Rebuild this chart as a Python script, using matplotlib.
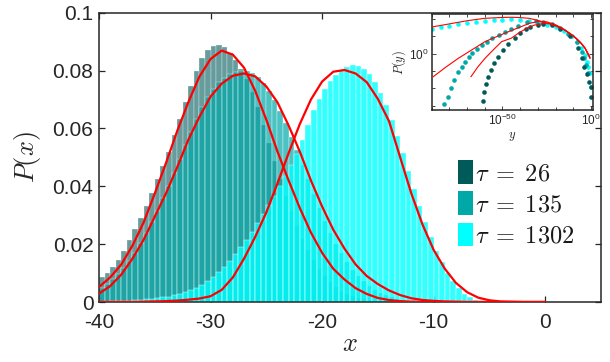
import numpy as np
import matplotlib
matplotlib.use("Agg")
import matplotlib.pyplot as plt
from matplotlib.patches import Patch
from matplotlib.ticker import FixedLocator, NullFormatter, FixedFormatter

plt.rcParams['font.family'] = ['Liberation Sans', 'DejaVu Sans']
plt.rcParams['mathtext.fontset'] = 'cm'
plt.rcParams['axes.unicode_minus'] = False

# ---------------- data ----------------
bin_width = 0.5
hist_start = -40.0

labels = [r'$\tau\;=\;26$', r'$\tau\;=\;135$', r'$\tau\;=\;1302$']
colors = ['#005a5a', '#00a8a8', '#00ffff']
alphas = [0.6, 0.7, 0.8]

# histogram heights (bins of width 0.5 starting at x=-40)
hist_26 = [0.0087, 0.0102, 0.0120, 0.0146, 0.0178, 0.0215, 0.0253, 0.0290, 0.0332, 0.0377,
           0.0424, 0.0471, 0.0520, 0.0576, 0.0632, 0.0690, 0.0748, 0.0800, 0.0843, 0.0870,
           0.0884, 0.0888, 0.0880, 0.0862, 0.0836, 0.0806, 0.0770, 0.0725, 0.0673, 0.0613,
           0.0550, 0.0487, 0.0425, 0.0367, 0.0313, 0.0263, 0.0218, 0.0179, 0.0145, 0.0115,
           0.0090, 0.0069, 0.0052, 0.0039, 0.0028, 0.0020, 0.0014, 0.0009, 0.0006, 0.0003]
hist_135 = [0.0050, 0.0062, 0.0078, 0.0096, 0.0117, 0.0142, 0.0170, 0.0203, 0.0238, 0.0276,
            0.0316, 0.0358, 0.0402, 0.0447, 0.0494, 0.0541, 0.0588, 0.0632, 0.0673, 0.0708,
            0.0737, 0.0760, 0.0776, 0.0787, 0.0794, 0.0798, 0.0797, 0.0790, 0.0777, 0.0757,
            0.0730, 0.0697, 0.0660, 0.0618, 0.0572, 0.0524, 0.0474, 0.0424, 0.0374, 0.0326,
            0.0281, 0.0240, 0.0202, 0.0168, 0.0138, 0.0112, 0.0090, 0.0071, 0.0055, 0.0042,
            0.0032, 0.0024, 0.0017, 0.0012, 0.0008, 0.0005, 0.0003, 0.0002, 0.0001]
hist_1302 = [0.0001, 0.0001, 0.0002, 0.0003, 0.0004, 0.0005, 0.0006, 0.0008, 0.0009, 0.0011,
             0.0013, 0.0016, 0.0019, 0.0023, 0.0028, 0.0034, 0.0041, 0.0050, 0.0060, 0.0072,
             0.0086, 0.0103, 0.0122, 0.0143, 0.0167, 0.0191, 0.0215, 0.0242, 0.0272, 0.0303,
             0.0335, 0.0368, 0.0402, 0.0437, 0.0473, 0.0512, 0.0560, 0.0612, 0.0662, 0.0702,
             0.0736, 0.0763, 0.0785, 0.0802, 0.0814, 0.0819, 0.0817, 0.0807, 0.0788, 0.0760,
             0.0724, 0.0680, 0.0629, 0.0573, 0.0514, 0.0453, 0.0392, 0.0333, 0.0277, 0.0225,
             0.0178, 0.0137, 0.0101, 0.0071, 0.0047, 0.0029, 0.0016, 0.0008, 0.0004, 0.0002,
             0.0001]

# fitted curves, sampled at x = -40 ... 0
fit_x = list(range(-40, 1))
fit_26 = [0.0052, 0.0085, 0.0130, 0.0195, 0.0275, 0.0375, 0.0480, 0.0590, 0.0690, 0.0779,
          0.0840, 0.0869, 0.0855, 0.0810, 0.0730, 0.0630, 0.0520, 0.0420, 0.0325, 0.0240,
          0.0170, 0.0115, 0.0078, 0.0048, 0.0028, 0.0014, 0.0007, 0.0003, 0.0001, 0, 0,
          0, 0, 0, 0, 0, 0, 0, 0, 0, 0]
fit_135 = [0.0029, 0.0055, 0.0095, 0.0150, 0.0215, 0.0295, 0.0375, 0.0465, 0.0560, 0.0640,
           0.0710, 0.0755, 0.0782, 0.0790, 0.0780, 0.0745, 0.0690, 0.0610, 0.0520, 0.0420,
           0.0330, 0.0250, 0.0185, 0.0130, 0.0090, 0.0062, 0.0040, 0.0024, 0.0013, 0.0007,
           0.0004, 0.0002, 0.0001, 0, 0, 0, 0, 0, 0, 0, 0]
fit_1302 = [0, 0, 0, 0, 0.0001, 0.0002, 0.0003, 0.0005, 0.0008, 0.0012,
            0.0020, 0.0042, 0.0085, 0.0150, 0.0225, 0.0310, 0.0410, 0.0515, 0.0615, 0.0700,
            0.0762, 0.0796, 0.0802, 0.0790, 0.0760, 0.0702, 0.0625, 0.0500, 0.0375, 0.0268,
            0.0180, 0.0115, 0.0066, 0.0034, 0.0015, 0.0006, 0.0002, 0.0001, 0, 0, 0]

# inset: log10(y), log10(P(y))
in_1302_lx = [-89.7, -85, -80, -75, -70, -65, -60, -55, -50, -45, -40, -35, -30, -25, -20,
              -15, -11, -8, -5.5, -3.5, -2.4, -1.5, -0.8, -0.2]
in_1302_ly = [14.1, 15.0, 16.0, 16.8, 17.6, 18.2, 18.7, 19.1, 19.4, 19.7, 19.4, 18.7, 17.8,
              16.2, 15.0, 12.8, 9.8, 6.5, 3.3, -1.0, -4.7, -7.5, -11.0, -19.0]
in_135_lx = [-82.9, -81, -79.1, -77.2, -75, -73, -71.2, -69, -67.4, -64.5, -61.8, -59, -56.1,
             -52, -48.6, -45, -41.1, -36.3, -31, -27, -22, -17.5, -13, -8, -5.3, -4, -2.8, -1.5]
in_135_ly = [-29.2, -24.8, -20, -15.2, -10.5, -7.5, -4.7, -2.2, 0.1, 2.6, 4.9, 6.8, 8.7, 10.8,
             12.5, 14.3, 16.0, 17.8, 18.6, 18.3, 16.8, 14.5, 11.2, 6.8, 1.0, -2.8, -6.6, -11.4]
in_26_lx = [-60.8, -60.3, -59.3, -58, -56.5, -54.6, -52.4, -49.5, -46.7, -42.9, -40.1, -37,
            -34.5, -30, -27, -22, -17.5, -12, -7.2, -5.3, -4, -2.5, -1.1, -0.1, 0]
in_26_ly = [-27.3, -22.3, -17.7, -13.3, -9.5, -5.6, -1.8, 2.0, 5.3, 8.7, 11.6, 14.0, 15.4,
            16.6, 16.8, 16.2, 14.3, 10.0, 3.0, -2.8, -7.6, -12.0, -16.6, -19.0, -24.8]

infit_1302_lx = [-90, -80, -70, -60, -50, -45, -40, -35, -30, -25, -20, -15, -10, -6, -3.4, -1.5, -0.6]
infit_1302_ly = [15.2, 17.0, 18.8, 20.2, 20.7, 20.8, 20.6, 20.2, 19.0, 17.6, 15.8, 13.5, 10.0, 6.2, 3.0, -0.9, -2.8]
infit_135_lx = [-89.1, -82, -75, -67, -59.9, -53, -46.7, -40, -34.5, -30, -25, -20, -15, -10, -6, -3.4, -1.5, -0.6]
infit_135_ly = [-13.3, -7.8, -2.8, 2.3, 6.8, 9.8, 12.5, 15.2, 17.4, 18.3, 18.2, 16.5, 13.8, 10.2, 6.5, 3.3, -0.5, -2.5]
infit_26_lx = [-67.8, -64, -59.9, -55, -50.5, -45, -41.1, -36.3, -32, -27, -22, -17, -12, -8, -5, -3.2, -1.5, -0.6]
infit_26_ly = [-13.3, -7.8, -2.8, 2.3, 6.8, 8.8, 11.6, 14.5, 16.3, 17.2, 17.0, 14.8, 11.5, 8.5, 5.2, 2.8, -0.3, -2.2]

# ---------------- figure ----------------
fig = plt.figure(figsize=(6.10, 3.62), dpi=100)
ax = fig.add_axes([0.1623, 0.1657, 0.8229, 0.7992])

axis_col = '#262626'
for hist, col, a in zip([hist_26, hist_135, hist_1302], colors, alphas):
    edges = hist_start + bin_width * np.arange(len(hist))
    ax.bar(edges, hist, width=bin_width, align='edge', color=col, alpha=a,
           edgecolor='white', linewidth=0.35, zorder=2)

for fy in [fit_26, fit_135, fit_1302]:
    ax.plot(fit_x, fy, color='#ff0000', lw=1.6, zorder=4, solid_capstyle='round',
            solid_joinstyle='round')

ax.set_xlim(-40, 5)
ax.set_ylim(0, 0.1)
ax.set_xticks([-40, -30, -20, -10, 0])
ax.set_xticklabels(['-40', '-30', '-20', '-10', '0'])
ax.set_yticks([0, 0.02, 0.04, 0.06, 0.08, 0.1])
ax.set_yticklabels(['0', '0.02', '0.04', '0.06', '0.08', '0.1'])
ax.tick_params(direction='in', length=4.5, width=0.9, top=True, right=True,
               labelsize=15, colors=axis_col, labelcolor=axis_col)
ax.tick_params(axis='x', pad=8)
ax.tick_params(axis='y', pad=4)
for s in ax.spines.values():
    s.set_linewidth(1.1)
    s.set_color(axis_col)
ax.set_xlabel(r'$x$', fontsize=19, labelpad=0, color=axis_col)
ax.set_ylabel(r'$P(x)$', fontsize=19, labelpad=7, color=axis_col)

handles = [Patch(facecolor=c, edgecolor='none') for c in colors]
leg = ax.legend(handles, labels, loc='upper left', bbox_to_anchor=(0.716, 0.49),
                frameon=False, fontsize=17.5, handlelength=0.58, handleheight=1.12,
                handletextpad=0.1, labelspacing=0.25, borderpad=0, borderaxespad=0)
for t in leg.get_texts():
    t.set_color('#1a1a1a')

# ---------------- inset ----------------
ins = fig.add_axes([0.7077, 0.6953, 0.2649, 0.2652])
ins.set_zorder(5)
ins.set_facecolor('white')
ins.set_xscale('log')
ins.set_yscale('log')

for lx, ly, col in [(in_1302_lx, in_1302_ly, colors[2]), (in_135_lx, in_135_ly, colors[1]),
                    (in_26_lx, in_26_ly, colors[0])]:
    ins.plot(10.0 ** np.array(lx), 10.0 ** np.array(ly), 'o', color=col, ms=3.3, mew=0, zorder=2)
for lx, ly in [(infit_1302_lx, infit_1302_ly), (infit_135_lx, infit_135_ly), (infit_26_lx, infit_26_ly)]:
    ins.plot(10.0 ** np.array(lx), 10.0 ** np.array(ly), color='#ff0000', lw=0.8, zorder=3)

ins.set_xlim(10.0 ** -90, 10.0 ** 1.3)
ins.set_ylim(10.0 ** -32.6, 10.0 ** 22.5)
ins.xaxis.set_major_locator(FixedLocator([1e-50, 1e0]))
ins.xaxis.set_major_formatter(FixedFormatter([r'$\mathregular{10^{-50}}$', r'$\mathregular{10^{0}}$']))
ins.xaxis.set_minor_locator(FixedLocator([10.0 ** k for k in range(-90, 1, 10)]))
ins.xaxis.set_minor_formatter(NullFormatter())
ins.yaxis.set_major_locator(FixedLocator([1e0]))
ins.yaxis.set_major_formatter(FixedFormatter([r'$\mathregular{10^{0}}$']))
ins.yaxis.set_minor_locator(FixedLocator([10.0 ** k for k in range(-30, 21, 10)]))
ins.yaxis.set_minor_formatter(NullFormatter())
ins.tick_params(which='both', direction='in', top=True, right=True, colors=axis_col,
                labelcolor=axis_col, labelsize=8.5, pad=2)
ins.tick_params(which='major', length=3, width=0.6)
ins.tick_params(which='minor', length=2.5, width=0.6)
for s in ins.spines.values():
    s.set_linewidth(1.1)
    s.set_color(axis_col)
ins.set_xlabel(r'$y$', fontsize=9, labelpad=1, color=axis_col)
ins.set_ylabel(r'$P(y)$', fontsize=9, labelpad=1, color=axis_col)

fig.savefig('out.png', dpi=100)
